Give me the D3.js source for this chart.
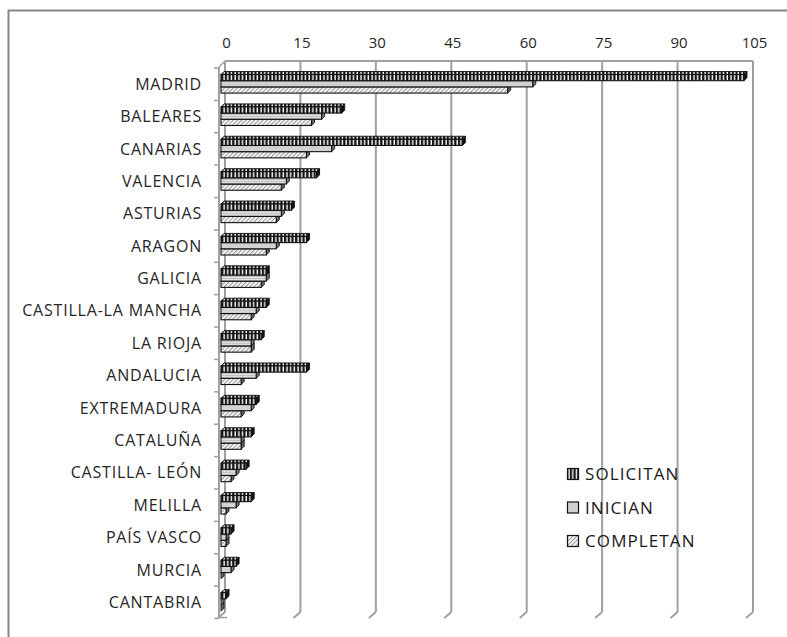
<html>
<head>
<title>Solicitudes por comunidad</title>
<style>
  body { margin: 0; background: #fff; }
</style>
</head>
<body>
<div id="chart-area"></div>
<script src="https://d3js.org/d3.v7.min.js"></script>
<script>

// data
const categories = ["MADRID", "BALEARES", "CANARIAS", "VALENCIA", "ASTURIAS", "ARAGON", "GALICIA",
  "CASTILLA-LA MANCHA", "LA RIOJA", "ANDALUCIA", "EXTREMADURA", "CATALUÑA", "CASTILLA- LEÓN",
  "MELILLA", "PAÍS VASCO", "MURCIA", "CANTABRIA"]
const solicitan = [104, 24, 48, 19, 14, 17, 9, 9, 8, 17, 7, 6, 5, 6, 2, 3, 1]
const inician   = [62, 20, 22, 13, 12, 11, 9, 7, 6, 7, 6, 4, 3, 3, 1, 2, 0]
const completan = [57, 18, 17, 12, 11, 9, 8, 6, 6, 4, 4, 4, 2, 1, 1, 0, 0]
const seriesNames = ["SOLICITAN", "INICIAN", "COMPLETAN"]
const xTicks = [0, 15, 30, 45, 60, 75, 90, 105]

const W = 787, H = 637
const FONT = "'Open Sans', sans-serif"
const DEPTH = 3          // 3d depth of a bar
const WALL = { dx: 4, dy: -7 }   // back wall offset from bar front
const BAR_H = 6.2

const svg = d3.select("#chart-area").append("svg")
    .attr("width", W).attr("height", H)

// patterns
const defs = svg.append("defs")
const pS = defs.append("pattern").attr("id", "pS").attr("patternUnits", "userSpaceOnUse")
    .attr("width", 3.7).attr("height", 10)
pS.append("rect").attr("width", 3.7).attr("height", 10).attr("fill", "#111")
pS.append("rect").attr("x", 1.4).attr("width", 1.4).attr("height", 10).attr("fill", "#fff")

const pI = defs.append("pattern").attr("id", "pI").attr("patternUnits", "userSpaceOnUse")
    .attr("width", 10).attr("height", 2)
pI.append("rect").attr("width", 10).attr("height", 2).attr("fill", "#e4e4e4")
pI.append("rect").attr("y", 1.3).attr("width", 10).attr("height", 0.7).attr("fill", "#b0b0b0")

const pC = defs.append("pattern").attr("id", "pC").attr("patternUnits", "userSpaceOnUse")
    .attr("width", 3).attr("height", 3).attr("patternTransform", "rotate(45)")
pC.append("rect").attr("width", 3).attr("height", 3).attr("fill", "#fff")
pC.append("rect").attr("width", 1.2).attr("height", 3).attr("fill", "#9a9a9a")

const fills = { SOLICITAN: "url(#pS)", INICIAN: "url(#pI)", COMPLETAN: "url(#pC)" }
const sideFill = { SOLICITAN: "#111", INICIAN: "#777", COMPLETAN: "#666" }

// outer border
svg.append("rect")
    .attr("x", 8.5).attr("y", 10.5).attr("width", 900).attr("height", 800)
    .attr("fill", "none").attr("stroke", "#868686").attr("stroke-width", 2)

// scales
const x = d3.scaleLinear().domain([0, 105]).range([221, 749])
const y = d3.scaleBand().domain(categories).range([68, 618.5])
const sub = d3.scaleBand().domain(seriesNames).range([0, BAR_H * 3])

const wallTop = 61, wallBottom = 612

// back wall gridlines
const grid = svg.append("g")
grid.selectAll("line.grid").data(xTicks).enter().append("line")
    .attr("class", "grid")
    .attr("x1", d => x(d) + WALL.dx).attr("x2", d => x(d) + WALL.dx)
    .attr("y1", wallTop).attr("y2", wallBottom)
    .attr("stroke", "#a0a0a0").attr("stroke-width", 2)
grid.selectAll("line.floor").data(xTicks).enter().append("line")
    .attr("class", "floor")
    .attr("x1", d => x(d) + WALL.dx).attr("x2", d => x(d) + WALL.dx - 7)
    .attr("y1", wallBottom).attr("y2", wallBottom + 6)
    .attr("stroke", "#a0a0a0").attr("stroke-width", 2)
grid.append("line")
    .attr("x1", x(0) + WALL.dx).attr("x2", x(105) + WALL.dx)
    .attr("y1", wallTop).attr("y2", wallTop)
    .attr("stroke", "#a0a0a0").attr("stroke-width", 2)

// top axis labels
const xAxis = d3.axisTop(x).tickValues(xTicks).tickSize(0).tickPadding(0)
svg.append("g")
    .attr("transform", `translate(${WALL.dx + 1}, 48)`)
    .call(xAxis)
    .call(g => g.select(".domain").remove())
    .selectAll("text")
        .attr("font-family", FONT).attr("font-size", "15px").attr("fill", "#262626")

// left (front) category axis
const ax = svg.append("g")
const axX = 219
ax.append("line").attr("x1", axX).attr("x2", axX).attr("y1", 67).attr("y2", 618.5)
    .attr("stroke", "#a0a0a0").attr("stroke-width", 2)
ax.append("line").attr("x1", axX).attr("x2", axX + 6).attr("y1", 67).attr("y2", 61)
    .attr("stroke", "#a0a0a0").attr("stroke-width", 1.5)
const bounds = categories.map(c => y(c)).concat([y.range()[1]])
ax.selectAll("line.tick").data(bounds).enter().append("line")
    .attr("class", "tick")
    .attr("x1", axX - 5).attr("x2", axX)
    .attr("y1", d => d).attr("y2", d => d)
    .attr("stroke", "#a0a0a0").attr("stroke-width", 1.5)
ax.append("line").attr("x1", axX).attr("x2", axX + 8).attr("y1", 617.5).attr("y2", 617.5)
    .attr("stroke", "#a0a0a0").attr("stroke-width", 1.5)

ax.selectAll("text").data(categories).enter().append("text")
    .attr("x", 202)
    .attr("y", d => y(d) + y.bandwidth() / 2)
    .attr("dy", "0.35em")
    .attr("text-anchor", "end")
    .attr("font-family", FONT).attr("font-size", "16px").attr("letter-spacing", "0.8px")
    .attr("fill", "#262626")
    .text(d => d)

// bars
const rows = []
categories.forEach((c, i) => {
  rows.push({ cat: c, s: "COMPLETAN", v: completan[i] })
  rows.push({ cat: c, s: "INICIAN", v: inician[i] })
  rows.push({ cat: c, s: "SOLICITAN", v: solicitan[i] })
})

const bars = svg.append("g").selectAll("g").data(rows).enter().append("g")
    .attr("transform", d => `translate(0, ${y(d.cat) + 6.5 + sub(d.s)})`)

bars.append("path")   // top face
    .attr("d", d => {
      const x0 = x(0), x1 = x(d.v)
      return `M${x0},0 L${x0 + DEPTH},${-DEPTH} L${x1 + DEPTH},${-DEPTH} L${x1},0 Z`
    })
    .attr("fill", d => fills[d.s]).attr("stroke", "#111").attr("stroke-width", 0.9)
bars.append("path")   // right face
    .attr("d", d => {
      const x1 = x(d.v)
      return `M${x1},0 L${x1 + DEPTH},${-DEPTH} L${x1 + DEPTH},${BAR_H - DEPTH} L${x1},${BAR_H} Z`
    })
    .attr("fill", d => sideFill[d.s]).attr("stroke", "#111").attr("stroke-width", 0.9)
bars.append("rect")   // front face
    .attr("x", x(0))
    .attr("width", d => x(d.v) - x(0))
    .attr("height", BAR_H)
    .attr("fill", d => fills[d.s]).attr("stroke", "#111").attr("stroke-width", 1.1)

// legend
const legend = svg.append("g").attr("transform", "translate(567, 474)")
seriesNames.forEach((s, i) => {
  const row = legend.append("g").attr("transform", `translate(0, ${i * 33.5})`)
  row.append("rect")
      .attr("x", 0.5).attr("y", -5.5).attr("width", 11).attr("height", 11)
      .attr("fill", fills[s]).attr("stroke", "#111").attr("stroke-width", 1.2)
  row.append("text")
      .attr("x", 18).attr("y", 0).attr("dy", "0.36em")
      .attr("font-family", FONT).attr("font-size", "17px").attr("letter-spacing", "1.1px")
      .attr("fill", "#1a1a1a")
      .text(s)
})

</script>
</body>
</html>
